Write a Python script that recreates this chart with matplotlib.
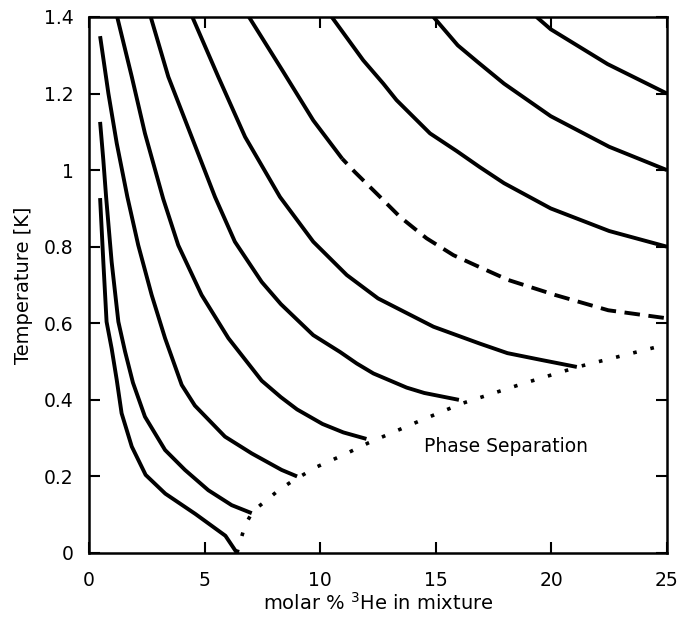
import matplotlib
matplotlib.use("Agg")
import matplotlib.pyplot as plt

# ---- data ----
a_x = [0.48, 0.62, 0.76, 0.98, 1.2, 1.41, 1.85, 2.45, 3.3, 4.6, 5.9, 6.4]
a_y = [0.927, 0.76, 0.604, 0.534, 0.452, 0.365, 0.278, 0.204, 0.155, 0.102, 0.045, 0.0]

b_x = [0.48, 0.62, 0.74, 0.98, 1.27, 1.56, 1.9, 2.42, 3.29, 4.15, 5.16, 6.17, 7.04]
b_y = [1.126, 1.026, 0.93, 0.76, 0.604, 0.526, 0.445, 0.356, 0.269, 0.217, 0.164, 0.125, 0.104]

c_x = [0.48, 0.84, 1.2, 1.66, 2.13, 2.71, 3.29, 4.01, 4.58, 5.88, 7.04, 8.33, 9.0]
c_y = [1.35, 1.20, 1.07, 0.93, 0.804, 0.674, 0.561, 0.439, 0.385, 0.304, 0.26, 0.217, 0.2]

d_x = [1.22, 1.85, 2.42, 3.21, 3.86, 4.87, 6.03, 7.47, 8.3, 9.0, 10.1, 11.0, 12.0]
d_y = [1.40, 1.244, 1.096, 0.925, 0.804, 0.674, 0.561, 0.45, 0.407, 0.375, 0.337, 0.315, 0.298]

e_x = [2.67, 3.43, 4.44, 5.45, 6.31, 7.47, 8.3, 9.7, 10.86, 11.58, 12.3, 13.74, 14.5, 16.0]
e_y = [1.40, 1.244, 1.087, 0.93, 0.813, 0.708, 0.65, 0.569, 0.525, 0.495, 0.469, 0.432, 0.418, 0.40]

f_x = [4.47, 5.59, 6.75, 8.26, 9.7, 11.15, 12.5, 14.9, 16.9, 18.1, 19.58, 21.1]
f_y = [1.40, 1.244, 1.087, 0.93, 0.813, 0.726, 0.665, 0.591, 0.547, 0.522, 0.504, 0.486]

g_solid_x = [6.92, 8.37, 9.7, 10.95]
g_solid_y = [1.40, 1.26, 1.13, 1.03]
g_dash_x = [10.95, 11.5, 12.59, 13.45, 14.6, 15.76, 16.7, 18.14, 20.16, 22.46, 25.0]
g_dash_y = [1.03, 0.995, 0.93, 0.878, 0.822, 0.778, 0.752, 0.713, 0.674, 0.634, 0.613]

h_x = [10.5, 11.86, 12.73, 13.3, 14.75, 15.9, 16.9, 17.95, 19.97, 22.5, 25.0]
h_y = [1.40, 1.287, 1.226, 1.183, 1.096, 1.05, 1.008, 0.966, 0.90, 0.841, 0.80]

i_x = [14.9, 15.95, 16.8, 17.95, 19.97, 22.5, 25.0]
i_y = [1.40, 1.326, 1.283, 1.226, 1.141, 1.061, 1.0]

j_x = [19.36, 19.97, 22.43, 25.0]
j_y = [1.40, 1.368, 1.277, 1.20]

sep_x = [6.4, 6.75, 7.1, 7.6, 8.2, 8.8, 9.85, 11.0, 12.1, 14.3, 16.1, 18.8, 21.2, 25.0]
sep_y = [0.0, 0.073, 0.11, 0.134, 0.164, 0.188, 0.225, 0.256, 0.288, 0.345, 0.39, 0.443, 0.487, 0.545]

x_ticks = [0, 5, 10, 15, 20, 25]
x_ticklabels = ["0", "5", "10", "15", "20", "25"]
y_ticks = [0, 0.2, 0.4, 0.6, 0.8, 1.0, 1.2, 1.4]
y_ticklabels = ["0", "0.2", "0.4", "0.6", "0.8", "1", "1.2", "1.4"]

# ---- figure ----
plt.rcParams['font.family'] = ['DejaVu Sans']
fig = plt.figure(figsize=(6.81, 6.18), dpi=100)
ax = fig.add_axes([89 / 681, 65 / 618, 578 / 681, 536 / 618])

lw = 2.8
solid = [(a_x, a_y), (b_x, b_y), (c_x, c_y), (d_x, d_y), (e_x, e_y),
         (f_x, f_y), (g_solid_x, g_solid_y), (h_x, h_y), (i_x, i_y), (j_x, j_y)]
for xs, ys in solid:
    ax.plot(xs, ys, color='black', lw=lw, solid_capstyle='butt', solid_joinstyle='round')

ax.plot(g_dash_x, g_dash_y, color='black', lw=lw, linestyle=(2.2, (4.0, 2.2)),
        dash_capstyle='butt')
ax.plot(sep_x, sep_y, color='black', lw=2.6, linestyle=(0, (1.0, 3.9)),
        dash_capstyle='butt')

ax.text(18.05, 0.277, "Phase Separation", fontsize=13.5, ha='center', va='center')

ax.set_xlim(0, 25)
ax.set_ylim(0, 1.4)
ax.set_xticks(x_ticks)
ax.set_xticklabels(x_ticklabels)
ax.set_yticks(y_ticks)
ax.set_yticklabels(y_ticklabels)
ax.tick_params(direction='in', length=8, width=1.5, top=True, right=True,
               labelsize=13.5, colors='black')
ax.tick_params(axis='y', pad=11)
ax.tick_params(axis='x', pad=13)
for sp in ax.spines.values():
    sp.set_linewidth(1.8)

ax.set_xlabel(r"molar % $^{3}$He in mixture", fontsize=14, labelpad=1)
ax.set_ylabel("Temperature [K]", fontsize=14, labelpad=8)

fig.savefig("out.png", dpi=100)
